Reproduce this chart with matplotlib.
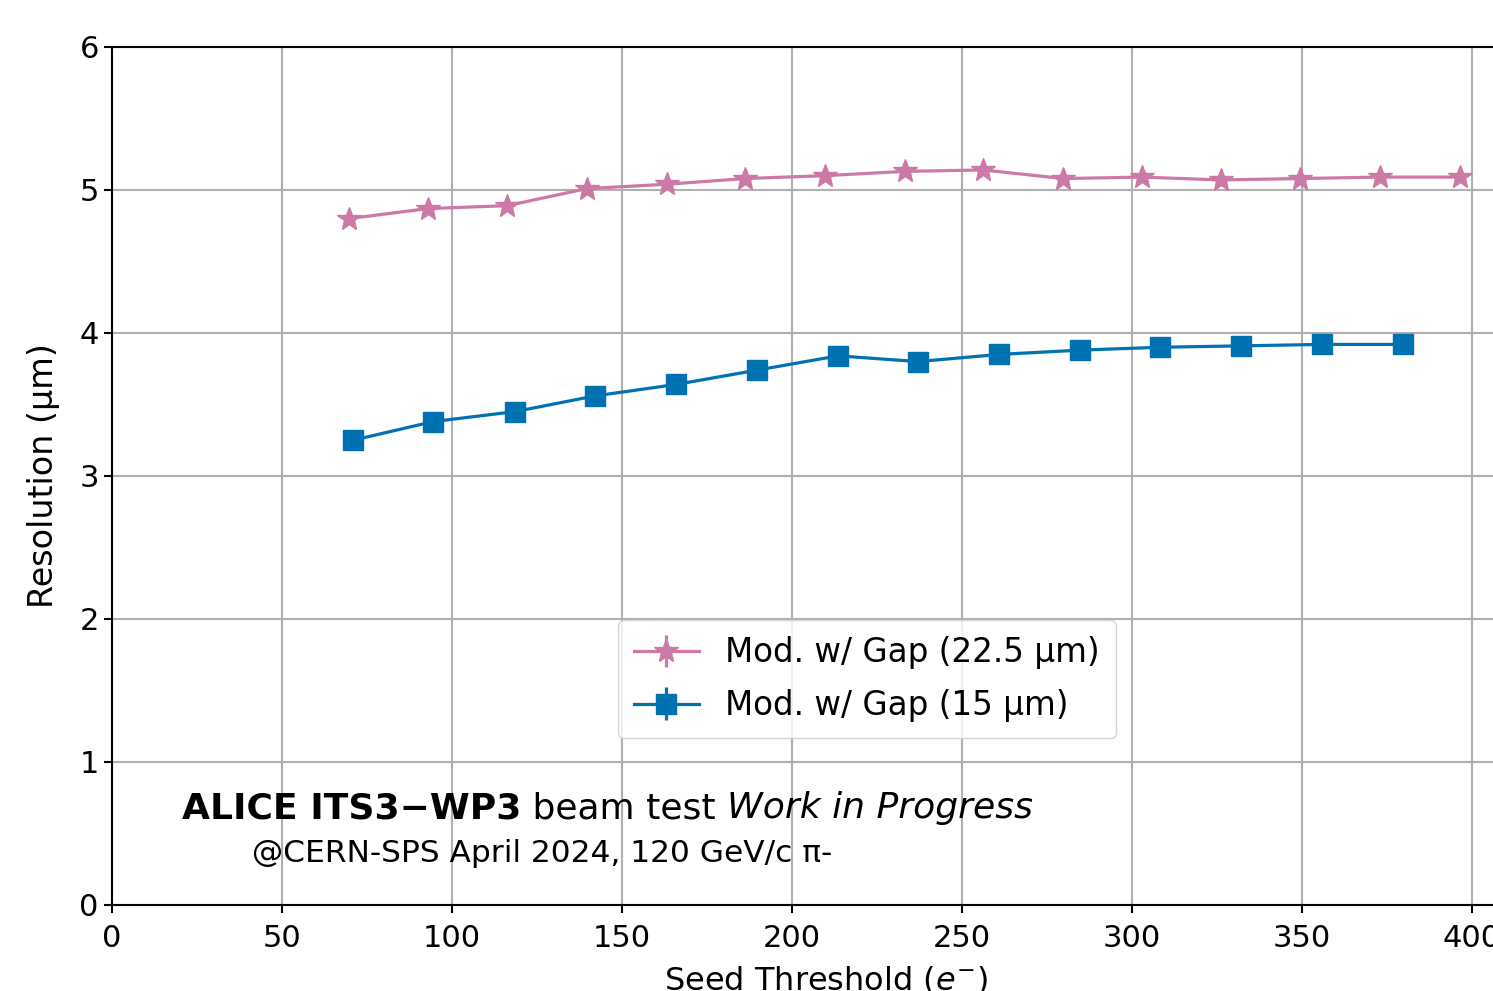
import matplotlib.pyplot as plt

# --- datos ---
thr_22 = [69.7, 92.9, 116.2, 139.7, 163.2, 186.2, 209.7, 233.2, 256.2, 279.7, 302.9, 326.2, 349.4, 372.9, 396.5]
res_22 = [4.80, 4.87, 4.89, 5.01, 5.04, 5.08, 5.10, 5.13, 5.14, 5.08, 5.09, 5.07, 5.08, 5.09, 5.09]
err_22 = [0.02] * len(res_22)

thr_15 = [70.9, 94.4, 118.5, 142.1, 165.9, 189.7, 213.5, 237.1, 260.9, 284.7, 308.2, 332.1, 355.9, 379.7]
res_15 = [3.25, 3.38, 3.45, 3.56, 3.64, 3.74, 3.84, 3.80, 3.85, 3.88, 3.90, 3.91, 3.92, 3.92]
err_15 = [0.02] * len(res_15)

yticks = [0, 1, 2, 3, 4, 5, 6]
xticks = [0, 50, 100, 150, 200, 250, 300, 350, 400]

fig = plt.figure(figsize=(14.93, 9.91), dpi=100)
ax = fig.add_axes([0.075, 0.0868, 0.9565, 0.8658])

ax.errorbar(thr_22, res_22, yerr=err_22, marker='*', markersize=18, color='#cc79a7',
            linewidth=2.3, elinewidth=2.3, label='Mod. w/ Gap (22.5 µm)')
ax.errorbar(thr_15, res_15, yerr=err_15, marker='s', markersize=15, color='#0072b2',
            linewidth=2.3, elinewidth=2.3, label='Mod. w/ Gap (15 µm)')

ax.set_xlim(0, 420)
ax.set_ylim(0, 6)
ax.set_xticks(xticks)
ax.set_yticks(yticks)
ax.grid(True, color='#b0b0b0', linewidth=1.5)
ax.set_axisbelow(True)
ax.tick_params(labelsize=22, width=1.5, length=6)
ax.tick_params(axis='x', pad=8)
for s in ax.spines.values():
    s.set_linewidth(1.5)

ax.set_xlabel('Seed Threshold ($e^{-}$)', fontsize=23, labelpad=8)
ax.set_ylabel('Resolution (µm)', fontsize=24, labelpad=14)

ax.legend(loc='upper left', bbox_to_anchor=(0.354, 0.332), borderaxespad=0,
          fontsize=23.5, handlelength=2.0, framealpha=0.8, borderpad=0.5,
          labelspacing=0.6)

# --- texto del experimento ---
t1 = ax.text(0.049, 0.101, 'ALICE ITS3\u2212WP3', transform=ax.transAxes, fontsize=26,
             fontweight='bold')
t2 = ax.annotate(' beam test ', xy=(1, 0), xycoords=t1, fontsize=26, va='bottom')
ax.annotate('Work in Progress', xy=(1, 0), xycoords=t2, fontsize=26, va='bottom',
            fontstyle='italic')
ax.text(0.098, 0.05, '@CERN-SPS April 2024, 120 GeV/c π-', transform=ax.transAxes,
        fontsize=22.5)

plt.savefig('out.png', dpi=100)
